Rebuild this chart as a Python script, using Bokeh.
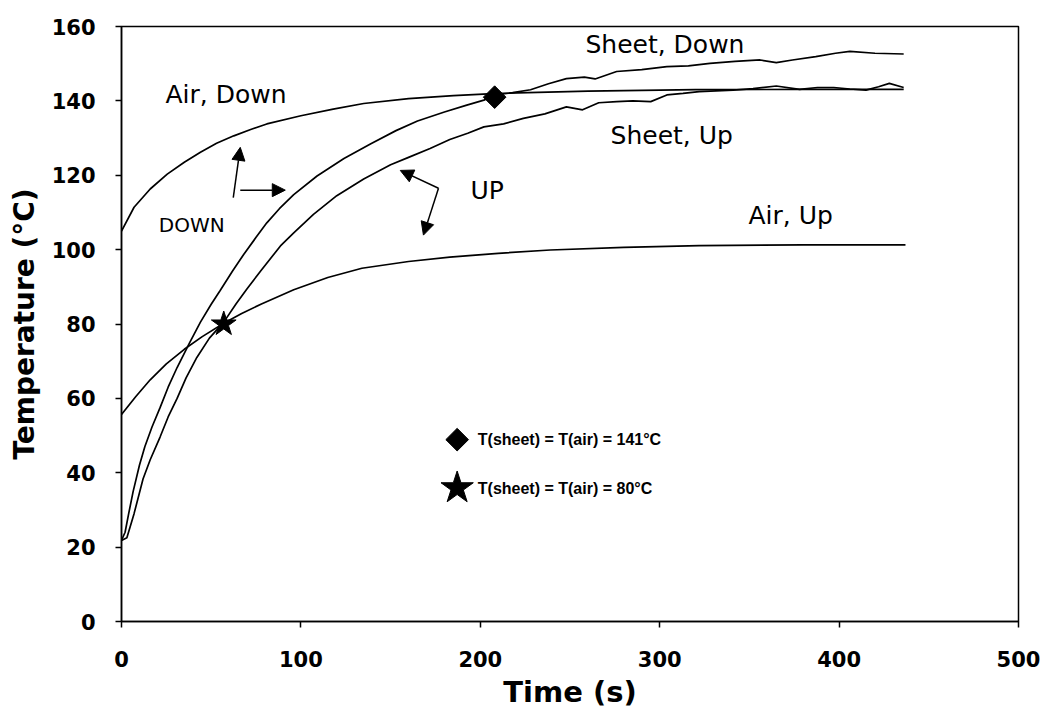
from bokeh.plotting import figure
from bokeh.models import Range1d, Label, Arrow, NormalHead
from bokeh.embed import file_html
from bokeh.resources import INLINE
import math

# ---------------- data ----------------
air_down_t = [0, 7, 16, 25.5, 35, 44, 53, 62.6, 72, 81, 100, 118, 135, 160, 185, 210, 260, 320, 380, 436]
air_down_T = [105, 111.4, 116.3, 120.3, 123.5, 126.2, 128.6, 130.6, 132.3, 133.8, 136, 137.8, 139.3,
              140.6, 141.4, 142, 142.6, 143, 143.1, 143.1]

sheet_down_t = [0, 2, 4, 6.5, 10, 13, 17, 21.5, 26, 31, 38, 44, 50, 55, 62, 68, 75, 81, 88, 96, 109,
                124, 139, 153, 165, 180, 192, 202, 208, 218, 228, 238, 248, 258, 264, 276, 290, 304,
                316, 328, 342, 356, 365, 374, 387, 398, 406, 420, 436]
sheet_down_T = [21.8, 24, 29, 35, 42, 47, 52.3, 57.5, 63, 68.3, 75, 80.5, 85.3, 89, 94.3, 98.6, 103.3,
                107.2, 111, 114.8, 119.8, 124.5, 128.5, 132, 134.6, 137, 138.8, 140.2, 141.6, 142.2,
                143, 144.6, 146, 146.4, 145.9, 147.9, 148.4, 149.2, 149.4, 150.1, 150.6, 151, 150.3,
                151, 151.9, 152.8, 153.3, 152.8, 152.6]

sheet_up_t = [0, 3, 7, 12, 16, 21.5, 26, 31, 36, 42, 49, 57, 64, 70, 78, 88.6, 96, 107, 120, 135, 150,
              160, 172, 183, 193, 202, 213, 224, 236, 248, 257, 266, 276, 285, 295, 304, 313, 322, 341,
              352, 365, 378, 388, 397, 406, 415, 422, 428, 436]
sheet_up_T = [21.8, 22.5, 29, 38.3, 43.5, 49.6, 55, 60, 65.5, 71, 76.2, 80.5, 85.5, 89.5, 94.5, 101,
              104.5, 109.5, 114.5, 119, 122.8, 124.8, 127.2, 129.6, 131.3, 133, 133.8, 135.3, 136.5,
              138.4, 137.6, 139.5, 139.8, 140, 139.8, 141.6, 142, 142.5, 142.9, 143.3, 144, 143.1,
              143.6, 143.6, 143.2, 142.9, 143.8, 144.7, 143.6]

air_up_t = [0, 8, 16, 25, 35, 45, 57, 67, 78, 96, 115, 134, 160, 183, 210, 239, 280, 322, 380, 437]
air_up_T = [55.7, 60.5, 65, 69.3, 73.2, 76.6, 80.2, 82.8, 85.4, 89.2, 92.5, 95, 96.8, 98, 99, 99.9,
            100.6, 101.1, 101.3, 101.3]

equal_hi_t, equal_hi_T = [208], [141]   # T(sheet) = T(air) = 141 °C (Down)
equal_lo_t, equal_lo_T = [57], [80]     # T(sheet) = T(air) = 80 °C (Up)

x_ticks = [0, 100, 200, 300, 400, 500]
y_ticks = [0, 20, 40, 60, 80, 100, 120, 140, 160]

curve_labels = ["Air, Down", "Sheet, Down", "Sheet, Up", "Air, Up"]
key_labels = ["T(sheet) = T(air) = 141°C", "T(sheet) = T(air) = 80°C"]

# ---------------- figure ----------------
p = figure(width=1042, height=717, output_backend="svg", toolbar_location=None,
           x_range=Range1d(0, 500), y_range=Range1d(0, 160),
           min_border_left=121, min_border_right=24, min_border_top=26, min_border_bottom=96)
p.background_fill_color = "white"
p.border_fill_color = "white"
p.xgrid.visible = False
p.ygrid.visible = False
p.outline_line_color = "black"
p.outline_line_width = 1.5
p.outline_line_alpha = 1.0

for ax in (p.xaxis[0], p.yaxis[0]):
    ax.axis_line_color = "black"
    ax.axis_line_width = 1.5
    ax.major_tick_line_color = "black"
    ax.major_tick_line_width = 1.5
    ax.major_tick_in = 0
    ax.major_tick_out = 6
    ax.minor_tick_line_color = None
    ax.major_label_text_font = "DejaVu Sans"
    ax.major_label_text_font_style = "bold"
    ax.major_label_text_font_size = "21px"
    ax.major_label_text_color = "black"
    ax.axis_label_text_font = "DejaVu Sans"
    ax.axis_label_text_font_style = "bold"
    ax.axis_label_text_color = "black"

p.xaxis.axis_label_text_font_size = "29px"
p.yaxis.axis_label_text_font_size = "28px"
p.xaxis.ticker = x_ticks
p.yaxis.ticker = y_ticks
p.xaxis.axis_label = "Time (s)"
p.yaxis.axis_label = "Temperature (°C)"
p.xaxis.major_label_standoff = 23
p.yaxis.major_label_standoff = 20
p.xaxis.axis_label_standoff = 5
p.yaxis.axis_label_standoff = 8

# ---------------- curves ----------------
lw = 1.7
p.line(air_down_t, air_down_T, line_color="black", line_width=lw)
p.line(sheet_down_t, sheet_down_T, line_color="black", line_width=lw)
p.line(sheet_up_t, sheet_up_T, line_color="black", line_width=lw)
p.line(air_up_t, air_up_T, line_color="black", line_width=lw)

p.scatter(equal_hi_t, equal_hi_T, marker="square", angle=math.pi / 4, size=16,
          fill_color="black", line_color="black")
p.scatter(equal_lo_t, equal_lo_T, marker="star", size=26,
          fill_color="black", line_color="black")

# ---------------- curve labels ----------------
label_pos = [(24.5, 141.7), (258.6, 155.1), (272.6, 130.6), (349.5, 109.1)]
for txt, (lx, ly) in zip(curve_labels, label_pos):
    p.add_layout(Label(x=lx, y=ly, text=txt, text_font="DejaVu Sans", text_font_size="25px",
                       text_color="black", text_baseline="middle", text_align="left"))

p.add_layout(Label(x=20.8, y=106.6, text="DOWN", text_font="DejaVu Sans", text_font_size="20px",
                   text_color="black", text_baseline="middle", text_align="left"))
p.add_layout(Label(x=194.5, y=115.9, text="UP", text_font="DejaVu Sans", text_font_size="25px",
                   text_color="black", text_baseline="middle", text_align="left"))

# ---------------- pointer arrows ----------------
arrows = [((62.3, 114), (66.2, 127.5)),
          ((66.2, 116), (91.3, 116)),
          ((176.7, 116.5), (155.4, 121.3)),
          ((176.7, 116.5), (168.3, 103.9))]
for (x0, y0), (x1, y1) in arrows:
    p.add_layout(Arrow(end=NormalHead(size=13, fill_color="black", line_color="black"),
                       x_start=x0, y_start=y0, x_end=x1, y_end=y1,
                       line_color="black", line_width=1.5))

# ---------------- key ----------------
p.scatter([187.1], [48.9], marker="square", angle=math.pi / 4, size=16,
          fill_color="black", line_color="black")
p.scatter([187.1], [35.9], marker="star", size=34, fill_color="black", line_color="black")
p.add_layout(Label(x=198.6, y=48.9, text=key_labels[0], text_font="Liberation Sans",
                   text_font_size="16px", text_font_style="bold", text_color="black",
                   text_baseline="middle"))
p.add_layout(Label(x=198.6, y=35.8, text=key_labels[1], text_font="Liberation Sans",
                   text_font_size="16px", text_font_style="bold", text_color="black",
                   text_baseline="middle"))

open("out.html", "w").write(file_html(p, INLINE))
